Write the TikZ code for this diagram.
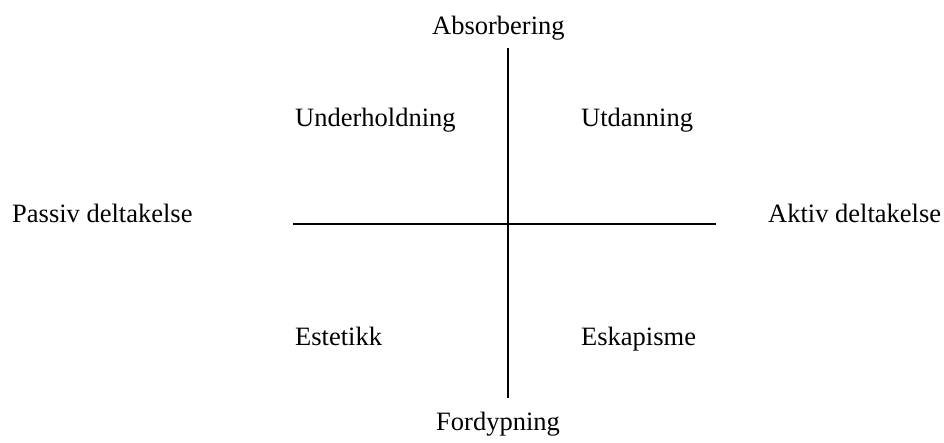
\documentclass[tikz,border=0pt]{standalone}
\usepackage{fontspec}
\setmainfont{Liberation Serif}
\begin{document}
\begin{tikzpicture}[x=1pt,y=-1pt,
  lbl/.style={inner sep=0pt,anchor=base west,font=\fontsize{26.5}{30}\selectfont},
  axis/.style={line width=2pt,black}]
\useasboundingbox (0,0) rectangle (944,443);
% axes
\coordinate (top) at (508,48);
\coordinate (bottom) at (508,398);
\coordinate (left) at (293,224);
\coordinate (right) at (716,224);
\draw[axis] (top) -- (bottom);
\draw[axis] (left) -- (right);
% axis end labels
\node[lbl] (abs) at (432,35) {Absorbering};
\node[lbl] (ford) at (436,430) {Fordypning};
\node[lbl] (pas) at (12,223) {Passiv deltakelse};
\node[lbl] (akt) at (768,223) {Aktiv deltakelse};
% quadrant labels
\node[lbl] (und) at (295,127) {Underholdning};
\node[lbl] (utd) at (581,127) {Utdanning};
\node[lbl] (est) at (295,345) {Estetikk};
\node[lbl] (esk) at (581,345) {Eskapisme};
\end{tikzpicture}
\end{document}
